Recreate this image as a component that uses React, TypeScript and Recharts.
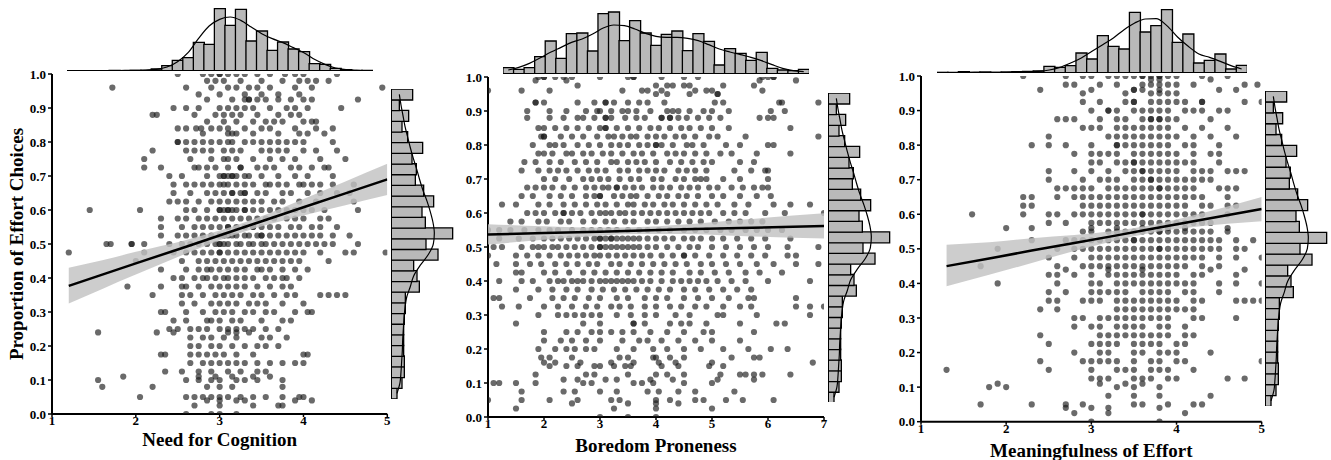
import React from 'react';
import { ComposedChart, Scatter, Line, Area, Bar, XAxis, YAxis, ReferenceLine } from 'recharts';

const FONT = '"Liberation Serif", "Times New Roman", Times, serif';

// ---------- Scatter data (rows: [proportion of effort choices, predictor values]) ----------
const nfcRows: [number, number[]][] = [
  [1.0, [2.5, 2.8, 2.9, 3.0, 3.0, 3.1, 3.2, 3.3, 3.45, 3.6, 3.78, 3.9, 4.0, 4.4]],
  [0.98, [2.85, 2.95, 3.05, 3.25, 3.5, 3.75, 3.95, 4.05, 4.15, 4.3]],
  [0.96, [1.72, 2.6, 2.9, 3.1, 3.2, 3.35, 3.45, 3.6, 3.9, 4.1, 4.94]],
  [0.94, [2.75, 3.0, 3.3, 3.5, 3.7, 3.95]],
  [0.925, [2.85, 3.15, 3.3, 3.35, 3.35, 3.45, 3.55, 3.7, 3.85, 4.0, 4.1, 4.65]],
  [0.9, [2.45, 2.6, 2.75, 3.0, 3.1, 3.2, 3.3, 3.4, 3.6, 3.8, 3.9, 4.05, 4.45]],
  [0.88, [2.2, 2.25, 2.7, 2.95, 3.05, 3.15, 3.25, 3.45, 3.7, 3.85, 3.95]],
  [0.86, [2.85, 3.05, 3.2, 3.4, 3.55, 3.65, 3.75, 4.0, 4.1, 4.15]],
  [0.84, [2.5, 2.6, 2.72, 2.78, 2.9, 3.0, 3.1, 3.3, 3.5, 3.6, 3.9, 4.15, 4.35]],
  [0.825, [2.8, 3.1, 3.15, 3.2, 3.4, 3.7, 3.95, 4.05, 4.25]],
  [0.8, [2.5, 2.5, 2.6, 2.7, 2.8, 2.9, 3.0, 3.1, 3.15, 3.3, 3.4, 3.5, 3.6, 3.7, 3.8, 3.9, 4.0, 4.35]],
  [0.775, [2.2, 2.6, 2.7, 2.8, 2.9, 3.05, 3.15, 3.25, 3.5, 3.6, 3.7, 3.8, 4.0, 4.15, 4.4]],
  [0.75, [2.1, 2.65, 2.9, 3.05, 3.1, 3.2, 3.4, 3.6, 3.75, 3.9, 4.2, 4.5]],
  [0.725, [2.1, 2.3, 2.7, 2.75, 2.85, 2.95, 3.1, 3.25, 3.25, 3.45, 3.55, 3.65, 3.85, 3.95, 4.1, 4.25, 4.3]],
  [0.7, [2.4, 2.55, 2.85, 3.0, 3.05, 3.05, 3.1, 3.15, 3.15, 3.2, 3.3, 3.35, 3.5, 3.7, 3.9, 4.05, 4.35]],
  [0.675, [2.45, 2.6, 2.7, 2.8, 2.9, 3.0, 3.05, 3.1, 3.2, 3.3, 3.4, 3.55, 3.6, 3.7, 3.8, 3.95, 4.0, 4.1, 4.2, 4.35, 4.6]],
  [0.65, [2.45, 2.65, 2.85, 2.95, 3.05, 3.15, 3.15, 3.25, 3.3, 3.3, 3.45, 3.55, 3.75, 3.85, 4.05, 4.2, 4.4, 4.55]],
  [0.625, [2.4, 2.5, 2.6, 2.75, 2.9, 3.0, 3.1, 3.2, 3.3, 3.4, 3.5, 3.65, 3.75, 3.95, 4.15, 4.6]],
  [0.6, [1.45, 2.05, 2.6, 2.7, 2.85, 3.0, 3.0, 3.05, 3.1, 3.1, 3.15, 3.2, 3.3, 3.3, 3.4, 3.5, 3.6, 3.7, 3.8, 3.9, 4.0, 4.1, 4.25, 4.65]],
  [0.575, [2.3, 2.5, 2.6, 2.75, 2.85, 2.95, 3.05, 3.15, 3.25, 3.35, 3.45, 3.55, 3.65, 3.8, 3.9, 4.0, 4.2, 4.3]],
  [0.55, [2.3, 2.55, 2.7, 2.8, 2.9, 3.0, 3.1, 3.1, 3.2, 3.3, 3.4, 3.4, 3.5, 3.6, 3.7, 3.85, 3.95, 4.1, 4.2, 4.4]],
  [0.525, [2.3, 2.5, 2.6, 2.7, 2.8, 2.9, 3.0, 3.05, 3.05, 3.1, 3.15, 3.2, 3.3, 3.35, 3.45, 3.5, 3.5, 3.6, 3.7, 3.8, 3.9, 4.0, 4.1, 4.2, 4.35, 4.55]],
  [0.5, [1.65, 1.7, 1.95, 1.95, 2.1, 2.4, 2.55, 2.65, 2.75, 2.85, 2.95, 3.0, 3.0, 3.05, 3.1, 3.2, 3.25, 3.35, 3.4, 3.5, 3.55, 3.65, 3.75, 3.85, 3.95, 4.05, 4.15, 4.25, 4.35, 4.65]],
  [0.475, [1.2, 2.1, 2.45, 2.6, 2.7, 2.8, 2.9, 3.0, 3.0, 3.1, 3.2, 3.3, 3.4, 3.5, 3.6, 3.7, 3.8, 3.9, 4.0, 4.2, 4.5, 4.6, 4.98]],
  [0.45, [2.0, 2.55, 2.75, 2.85, 2.95, 3.05, 3.15, 3.25, 3.35, 3.45, 3.55, 3.65, 3.75, 3.85, 3.95, 4.3]],
  [0.425, [2.3, 2.6, 2.75, 2.85, 2.9, 3.0, 3.1, 3.2, 3.3, 3.45, 3.5, 3.6, 3.75, 3.9, 4.05]],
  [0.4, [2.45, 2.55, 2.7, 2.8, 2.85, 2.95, 3.05, 3.1, 3.2, 3.3, 3.4, 3.55, 3.65, 3.75, 3.8, 3.95]],
  [0.375, [1.9, 2.3, 2.55, 2.6, 2.75, 2.9, 3.0, 3.1, 3.2, 3.3, 3.45, 3.6, 3.75, 3.85]],
  [0.35, [2.2, 2.55, 2.65, 2.8, 2.95, 3.05, 3.15, 3.25, 3.4, 3.5, 3.65, 3.8, 3.9, 4.2, 4.3, 4.4, 4.5]],
  [0.325, [2.55, 2.7, 2.9, 3.0, 3.1, 3.2, 3.35, 3.45, 3.55, 3.75, 4.0]],
  [0.3, [2.3, 2.35, 2.6, 2.8, 2.95, 3.05, 3.15, 3.3, 3.4, 3.55, 3.65, 3.9, 4.05, 4.1]],
  [0.275, [2.45, 2.6, 2.85, 2.9, 3.0, 3.15, 3.25, 3.5, 3.75, 3.85]],
  [0.25, [2.4, 2.5, 2.65, 2.75, 2.85, 3.0, 3.1, 3.2, 3.3, 3.4, 3.55, 3.7]],
  [0.24, [1.55, 2.25, 2.45, 3.1, 3.2, 3.35]],
  [0.225, [2.65, 2.8, 2.9, 3.05, 3.2, 3.5, 3.6, 3.8]],
  [0.2, [2.65, 2.75, 2.9, 3.0, 3.15, 3.3, 3.45, 3.55, 3.7]],
  [0.175, [2.3, 2.35, 2.65, 2.75, 2.85, 2.95, 3.05, 3.2, 3.4, 4.0, 4.05]],
  [0.15, [2.65, 2.8, 2.9, 3.0, 3.1, 3.2, 3.3, 3.45, 3.6, 3.75, 3.9, 4.0]],
  [0.125, [2.35, 2.55, 2.75, 2.9, 3.1, 3.25, 3.45, 3.55]],
  [0.11, [1.85, 2.75, 2.95, 3.15, 3.4, 3.6]],
  [0.1, [1.55, 2.6, 2.75, 2.9, 3.0, 3.2, 3.3, 3.45, 3.75]],
  [0.08, [1.6, 2.2, 2.85, 3.0, 3.15, 3.75]],
  [0.05, [2.05, 2.6, 2.7, 2.8, 2.9, 3.0, 3.1, 3.25, 3.4, 3.55, 3.75, 3.95, 4.0]],
  [0.04, [2.85, 3.0, 3.2, 3.3, 3.9, 4.1]],
  [0.025, [2.7, 3.0, 3.4, 3.7, 3.75]],
  [0.0, [2.6, 2.9, 3.0, 3.2]],
];

const bpRows: [number, number[]][] = [
  [1.0, [1.9, 2.0, 2.0, 2.2, 2.35, 2.5, 3.0, 3.5, 3.6, 3.6, 4.1, 4.5, 4.75, 5.9, 6.0, 6.1, 6.1]],
  [0.99, [1.85, 2.4, 5.85, 6.5]],
  [0.975, [2.6, 4.0, 4.2, 4.3, 4.5, 4.6, 5.2, 5.75]],
  [0.96, [1.0, 1.6, 2.1, 3.4, 3.75, 3.85, 4.1, 4.7, 4.9, 5.0, 5.9]],
  [0.95, [4.0, 4.2, 4.6, 5.1, 5.1]],
  [0.925, [1.85, 1.85, 2.0, 2.6, 2.9, 3.1, 3.1, 3.25, 3.5, 3.7, 3.85, 4.15, 5.05, 5.2, 6.2, 6.25, 6.9]],
  [0.9, [1.7, 2.1, 2.4, 2.75, 2.95, 3.0, 3.2, 3.4, 3.5, 3.65, 3.9, 4.2, 4.3, 4.4, 4.6, 4.85, 5.0, 5.3, 6.05, 6.3]],
  [0.88, [1.7, 2.1, 2.35, 2.6, 2.7, 2.9, 3.1, 3.1, 3.2, 3.45, 3.65, 3.8, 4.1, 4.1, 4.25, 4.25, 4.4, 4.55, 4.75, 4.95, 5.15, 5.85, 6.0, 6.1]],
  [0.85, [1.9, 2.0, 2.2, 2.4, 2.6, 2.8, 3.0, 3.1, 3.1, 3.3, 3.5, 3.7, 3.9, 4.05, 4.25, 4.45, 4.6, 4.8, 5.0, 5.3, 6.4]],
  [0.825, [1.95, 2.0, 2.0, 2.3, 2.5, 2.7, 2.95, 3.15, 3.25, 3.4, 3.55, 3.65, 3.85, 4.0, 4.15, 4.35, 4.5, 4.7, 4.95, 5.1, 5.6, 6.9]],
  [0.8, [1.8, 2.1, 2.2, 2.35, 2.6, 2.8, 3.0, 3.2, 3.35, 3.5, 3.7, 3.85, 4.0, 4.0, 4.1, 4.3, 4.55, 4.65, 4.85, 5.25, 5.5, 6.0, 6.1]],
  [0.775, [1.9, 2.0, 2.15, 2.4, 2.5, 2.7, 2.85, 3.05, 3.2, 3.4, 3.6, 3.75, 3.95, 4.2, 4.35, 4.5, 4.7, 4.9, 5.15, 5.35, 5.8, 6.4]],
  [0.75, [1.65, 1.85, 2.1, 2.3, 2.55, 2.75, 2.95, 3.2, 3.3, 3.5, 3.65, 3.8, 4.0, 4.25, 4.45, 4.65, 4.85, 5.0, 5.5, 5.75]],
  [0.725, [1.6, 1.9, 2.1, 2.25, 2.4, 2.6, 2.8, 2.95, 3.1, 3.35, 3.5, 3.7, 3.85, 4.0, 4.15, 4.4, 4.55, 4.7, 4.9, 5.4, 5.7, 5.95, 6.0]],
  [0.7, [2.0, 2.2, 2.45, 2.7, 2.85, 3.0, 3.15, 3.35, 3.55, 3.7, 3.95, 4.1, 4.35, 4.5, 4.7, 4.8, 4.9, 5.2, 5.5, 6.0]],
  [0.675, [1.7, 1.85, 2.0, 2.15, 2.35, 2.55, 2.75, 2.9, 3.05, 3.15, 3.3, 3.3, 3.45, 3.6, 3.75, 3.95, 4.1, 4.25, 4.45, 4.6, 4.75, 4.95, 5.1, 5.35, 5.55, 5.75, 5.9, 6.0]],
  [0.65, [1.6, 1.8, 2.1, 2.3, 2.5, 2.75, 2.9, 3.0, 3.0, 3.25, 3.4, 3.55, 3.65, 3.85, 4.05, 4.2, 4.4, 4.55, 4.75, 5.0, 5.2, 5.5, 5.8, 6.05]],
  [0.625, [1.25, 1.5, 1.9, 2.1, 2.35, 2.55, 2.75, 2.95, 3.1, 3.3, 3.5, 3.6, 3.8, 3.95, 4.15, 4.3, 4.5, 4.7, 4.9, 5.1, 5.4, 5.65, 6.1, 6.4, 6.75]],
  [0.6, [1.7, 1.85, 2.0, 2.2, 2.35, 2.35, 2.5, 2.65, 2.85, 3.0, 3.1, 3.2, 3.35, 3.45, 3.6, 3.75, 3.9, 4.05, 4.2, 4.35, 4.5, 4.65, 4.8, 4.95, 5.2, 5.4, 5.6, 5.95, 6.3, 7.0]],
  [0.575, [1.4, 1.6, 1.9, 2.05, 2.3, 2.45, 2.7, 2.9, 3.1, 3.25, 3.45, 3.6, 3.85, 4.0, 4.2, 4.4, 4.6, 4.8, 5.05, 5.3, 5.5, 5.7, 5.9]],
  [0.55, [1.0, 1.2, 1.4, 1.65, 1.9, 2.1, 2.25, 2.5, 2.7, 2.85, 3.0, 3.15, 3.3, 3.5, 3.7, 3.85, 4.05, 4.25, 4.5, 4.7, 4.9, 5.15, 5.35, 5.6, 5.8, 6.0, 6.25]],
  [0.525, [1.2, 1.55, 1.8, 2.0, 2.15, 2.3, 2.45, 2.6, 2.75, 2.9, 3.0, 3.0, 3.1, 3.2, 3.2, 3.3, 3.4, 3.5, 3.6, 3.7, 3.85, 4.0, 4.15, 4.3, 4.5, 4.65, 4.8, 5.0, 5.2, 5.45, 5.7, 5.95, 6.4]],
  [0.5, [1.1, 1.25, 1.6, 1.8, 1.9, 2.0, 2.15, 2.25, 2.4, 2.55, 2.7, 2.85, 3.0, 3.0, 3.1, 3.2, 3.3, 3.4, 3.5, 3.6, 3.7, 3.85, 4.0, 4.2, 4.4, 4.6, 4.75, 5.0, 5.25, 5.5, 5.75, 6.0, 6.35, 6.9]],
  [0.475, [1.0, 1.5, 1.7, 1.9, 2.1, 2.3, 2.45, 2.6, 2.75, 2.9, 3.0, 3.15, 3.3, 3.45, 3.6, 3.75, 3.9, 4.1, 4.3, 4.5, 4.5, 4.7, 4.95, 5.2, 5.45, 5.7, 5.95, 6.35, 6.5]],
  [0.45, [1.15, 1.5, 1.75, 1.95, 2.2, 2.4, 2.6, 2.8, 2.95, 3.2, 3.35, 3.55, 3.75, 3.95, 4.15, 4.35, 4.55, 4.8, 5.0, 5.25, 5.5, 5.8, 6.1, 6.5, 6.9]],
  [0.425, [1.5, 1.6, 2.0, 2.2, 2.45, 2.7, 2.9, 3.1, 3.3, 3.5, 3.7, 3.9, 4.1, 4.3, 4.6, 4.8, 5.05, 5.3, 5.6, 5.85, 6.25]],
  [0.4, [1.2, 1.6, 1.8, 2.1, 2.25, 2.35, 2.5, 2.6, 2.7, 2.85, 3.0, 3.1, 3.2, 3.3, 3.4, 3.5, 3.6, 3.75, 3.9, 4.1, 4.3, 4.45, 4.6, 4.75, 4.9, 5.1, 5.35, 5.6, 6.0, 6.75]],
  [0.375, [1.5, 1.9, 2.15, 2.4, 2.6, 2.85, 3.05, 3.25, 3.45, 3.65, 3.85, 4.05, 4.25, 4.5, 4.7, 4.95, 5.2, 5.45, 5.7]],
  [0.35, [1.1, 1.2, 1.75, 2.15, 2.35, 2.55, 2.8, 3.0, 3.3, 3.5, 3.8, 4.0, 4.2, 4.5, 4.75, 5.0, 5.3, 5.65, 5.75, 6.5]],
  [0.325, [1.25, 1.55, 2.0, 2.25, 2.5, 2.75, 2.95, 3.2, 3.35, 3.55, 3.8, 4.0, 4.25, 4.45, 4.7, 4.9, 5.2, 5.5, 5.7, 6.5, 6.75, 7.0]],
  [0.3, [1.9, 2.25, 2.4, 2.55, 2.7, 2.85, 3.0, 3.3, 3.55, 3.8, 4.0, 4.35, 4.6, 5.1, 5.2, 5.8, 6.75]],
  [0.275, [1.5, 2.7, 3.0, 3.6, 3.6, 3.8, 4.25, 4.45, 4.6, 4.9, 5.5, 6.15, 6.3]],
  [0.25, [2.0, 2.4, 2.6, 2.85, 3.0, 3.2, 3.4, 3.6, 3.9, 4.2, 4.5, 4.85, 5.0, 5.75]],
  [0.225, [2.0, 2.3, 2.5, 2.75, 3.0, 3.4, 3.7, 3.85, 4.1, 4.4, 4.7, 5.0, 5.5]],
  [0.2, [1.9, 2.2, 2.4, 2.55, 2.75, 2.9, 3.3, 3.6, 3.95, 4.2, 4.5, 4.8, 5.2, 5.65, 6.05, 6.35]],
  [0.175, [1.95, 2.1, 2.5, 3.35, 3.5, 3.95, 4.0, 4.25, 4.5, 5.35, 5.75, 5.85]],
  [0.16, [2.0, 2.2, 2.65, 3.2, 3.6, 4.05, 4.35, 5.0, 6.8]],
  [0.15, [2.1, 2.4, 2.6, 2.9, 3.0, 3.25, 3.45, 3.55, 4.1, 4.4, 4.95, 5.2]],
  [0.125, [1.85, 2.75, 2.9, 3.5, 4.0, 4.2, 4.5, 5.15, 5.5, 5.6, 5.75, 5.9, 6.4]],
  [0.11, [2.35, 2.6, 3.1, 3.3, 3.9, 4.3, 5.1, 5.75]],
  [0.1, [1.1, 1.2, 1.5, 1.85, 2.7, 2.85, 3.6, 3.75, 3.95, 4.5, 5.0]],
  [0.075, [1.6, 2.35, 2.55, 3.0, 3.3, 3.85, 4.05, 4.4, 4.7, 5.4]],
  [0.05, [1.0, 1.6, 2.1, 2.6, 3.2, 3.35, 4.0, 4.25, 4.7, 4.85, 5.25, 5.55, 6.1]],
  [0.04, [2.5, 3.5, 4.0, 4.4]],
  [0.025, [1.5, 3.25, 4.0, 5.0]],
  [0.0, [3.0, 3.5, 4.0]],
];

const meRows: [number, number[]][] = [
  [1.0, [2.2, 2.7, 2.9, 3.0, 3.2, 3.3, 3.4, 3.5, 3.6, 3.6, 3.7, 3.8, 3.8, 3.9, 4.0, 4.3, 4.6]],
  [0.99, [3.7, 3.8, 4.4]],
  [0.975, [2.7, 2.8, 3.1, 3.3, 3.6, 3.7, 3.8, 3.9, 4.0, 4.2, 4.8, 4.95]],
  [0.96, [2.4, 3.0, 3.5, 3.5, 3.6, 3.8, 4.5, 4.7]],
  [0.95, [2.9, 3.4, 3.7, 3.8, 3.9, 4.0]],
  [0.925, [2.9, 3.1, 3.4, 3.5, 3.5, 3.7, 3.8, 3.9, 4.0, 4.1, 4.3, 4.3, 4.8, 5.0]],
  [0.9, [3.0, 3.2, 3.2, 3.3, 3.5, 3.6, 3.7, 3.8, 3.9, 4.1, 4.2, 4.3, 4.5, 4.6]],
  [0.875, [2.6, 2.7, 2.8, 3.1, 3.3, 3.4, 3.6, 3.7, 3.7, 3.8, 3.8, 3.9, 4.0, 4.4]],
  [0.85, [2.9, 3.0, 3.1, 3.3, 3.4, 3.5, 3.6, 3.7, 3.8, 3.9, 4.1, 4.3, 4.6]],
  [0.825, [2.5, 3.2, 3.3, 3.4, 3.5, 3.6, 3.7, 3.8, 3.9, 4.0, 4.2, 4.4, 4.7]],
  [0.8, [2.3, 2.5, 2.7, 3.0, 3.3, 3.3, 3.4, 3.5, 3.6, 3.7, 3.8, 3.9, 4.1, 4.2, 4.5]],
  [0.775, [2.8, 3.0, 3.1, 3.2, 3.3, 3.5, 3.6, 3.7, 3.8, 3.9, 4.0, 4.2, 4.4, 4.5]],
  [0.75, [3.0, 3.1, 3.3, 3.4, 3.5, 3.5, 3.6, 3.7, 3.8, 3.9, 4.0, 4.1, 4.2, 4.5]],
  [0.725, [2.5, 2.8, 3.0, 3.2, 3.4, 3.5, 3.6, 3.6, 3.7, 3.8, 3.9, 4.0, 4.2, 4.3, 4.4, 4.6, 4.7, 4.8]],
  [0.7, [2.5, 2.9, 3.1, 3.2, 3.3, 3.5, 3.6, 3.7, 3.7, 3.8, 3.9, 4.0, 4.1, 4.2, 4.3, 4.4]],
  [0.675, [2.6, 2.7, 2.8, 2.9, 3.0, 3.2, 3.3, 3.4, 3.5, 3.6, 3.7, 3.8, 3.8, 3.9, 4.0, 4.1, 4.2, 4.5, 4.6, 4.7]],
  [0.65, [2.2, 2.3, 2.6, 2.8, 2.9, 3.0, 3.1, 3.2, 3.3, 3.4, 3.5, 3.6, 3.7, 3.8, 3.9, 4.0, 4.1, 4.2, 4.3, 4.6]],
  [0.625, [2.2, 2.3, 2.9, 3.0, 3.1, 3.2, 3.3, 3.4, 3.5, 3.6, 3.7, 3.8, 3.9, 4.0, 4.1, 4.3, 4.4, 4.6, 4.7]],
  [0.6, [1.6, 2.2, 2.5, 2.6, 2.8, 2.9, 3.0, 3.1, 3.2, 3.3, 3.4, 3.5, 3.6, 3.6, 3.7, 3.8, 3.9, 4.0, 4.1, 4.2, 4.3, 4.6]],
  [0.575, [2.5, 2.7, 3.0, 3.1, 3.2, 3.3, 3.4, 3.5, 3.6, 3.7, 3.8, 3.9, 4.0, 4.1, 4.2, 4.3, 4.4]],
  [0.56, [2.0, 2.3, 3.0, 3.3, 3.6, 3.9, 4.1, 4.6]],
  [0.55, [2.9, 3.0, 3.2, 3.3, 3.4, 3.5, 3.6, 3.7, 3.8, 3.8, 3.9, 4.0, 4.1, 4.2, 4.3, 4.4, 4.6]],
  [0.525, [2.3, 2.7, 2.8, 2.9, 3.0, 3.1, 3.2, 3.3, 3.4, 3.5, 3.5, 3.6, 3.7, 3.8, 3.9, 4.0, 4.1, 4.2, 4.3, 4.4, 4.5, 4.7, 4.9]],
  [0.5, [1.9, 2.6, 2.8, 2.9, 3.0, 3.1, 3.2, 3.3, 3.4, 3.5, 3.6, 3.7, 3.8, 3.8, 3.9, 4.0, 4.1, 4.2, 4.3, 4.4, 4.5, 4.7, 4.8]],
  [0.475, [2.5, 2.8, 3.0, 3.1, 3.2, 3.3, 3.4, 3.5, 3.6, 3.7, 3.8, 3.9, 4.0, 4.1, 4.2, 4.3, 4.5, 4.7, 5.0]],
  [0.45, [1.7, 2.6, 2.9, 3.0, 3.1, 3.2, 3.3, 3.4, 3.5, 3.6, 3.7, 3.8, 3.9, 4.0, 4.1, 4.3, 4.5]],
  [0.44, [2.7, 3.2, 3.6, 4.4, 4.8]],
  [0.425, [2.5, 2.6, 2.8, 3.0, 3.2, 3.3, 3.4, 3.5, 3.6, 3.7, 3.8, 3.9, 4.0, 4.2, 4.3, 4.7]],
  [0.4, [1.9, 2.6, 3.0, 3.1, 3.3, 3.4, 3.5, 3.6, 3.7, 3.8, 3.9, 4.0, 4.1, 4.2, 4.5, 4.7, 5.0]],
  [0.375, [2.5, 2.7, 3.0, 3.1, 3.2, 3.3, 3.4, 3.6, 3.7, 3.8, 3.9, 4.1, 4.2, 4.5]],
  [0.35, [2.5, 2.6, 2.9, 3.0, 3.1, 3.3, 3.4, 3.5, 3.6, 3.7, 3.8, 3.9, 4.0, 4.2, 4.3, 4.7, 4.8, 4.9, 5.0]],
  [0.325, [2.4, 2.6, 3.3, 3.4, 3.5, 3.6, 3.7, 3.8, 3.9, 4.0, 4.1, 4.2]],
  [0.3, [2.8, 2.9, 3.1, 3.2, 3.3, 3.4, 3.5, 3.6, 3.7, 3.8, 3.9, 4.2, 4.3, 4.7]],
  [0.275, [2.8, 3.0, 3.1, 3.3, 3.4, 3.5, 3.6, 3.8, 3.9, 4.1]],
  [0.25, [2.4, 3.1, 3.2, 3.3, 3.4, 3.5, 3.6, 3.7, 3.8, 3.9, 4.1, 4.2]],
  [0.225, [2.5, 3.0, 3.1, 3.2, 3.3, 3.5, 3.6, 3.7, 3.8, 4.0, 4.1]],
  [0.2, [2.8, 3.1, 3.2, 3.5, 3.6, 3.8, 3.9, 4.0, 4.4]],
  [0.175, [2.4, 2.9, 3.0, 3.1, 3.2, 3.3, 3.5, 3.7, 3.8, 4.0, 4.1, 5.0]],
  [0.15, [1.3, 2.5, 3.0, 3.3, 3.4, 3.5, 3.7, 3.8, 3.9, 4.2]],
  [0.125, [3.0, 3.1, 3.2, 3.5, 3.6, 3.7, 3.9, 4.0, 4.6, 4.8]],
  [0.11, [1.9, 3.1, 3.4, 3.6]],
  [0.1, [1.8, 2.0, 3.3, 3.5, 3.8]],
  [0.075, [3.2, 3.5, 3.8, 4.4]],
  [0.05, [1.7, 2.3, 2.7, 2.9, 3.5, 3.6, 3.9, 4.2, 4.3]],
  [0.04, [2.7, 3.0, 3.2, 3.8]],
  [0.025, [2.8, 3.2, 4.1]],
  [0.0, [3.0, 3.8]],
];

// ---------- Regression fits with 95% CI ----------
const nfcFit = [
  { x: 1.2, fit: 0.377, band: [0.325, 0.43] },
  { x: 1.6, fit: 0.41, band: [0.368, 0.452] },
  { x: 2.0, fit: 0.443, band: [0.41, 0.477] },
  { x: 2.6, fit: 0.492, band: [0.472, 0.512] },
  { x: 3.2, fit: 0.542, band: [0.529, 0.555] },
  { x: 3.6, fit: 0.575, band: [0.559, 0.591] },
  { x: 4.0, fit: 0.608, band: [0.584, 0.632] },
  { x: 4.5, fit: 0.649, band: [0.614, 0.684] },
  { x: 5.0, fit: 0.69, band: [0.644, 0.736] },
];
const bpFit = [
  { x: 1.0, fit: 0.537, band: [0.507, 0.567] },
  { x: 2.0, fit: 0.541, band: [0.521, 0.561] },
  { x: 3.0, fit: 0.545, band: [0.533, 0.557] },
  { x: 3.6, fit: 0.548, band: [0.538, 0.558] },
  { x: 4.5, fit: 0.552, band: [0.538, 0.566] },
  { x: 5.5, fit: 0.556, band: [0.532, 0.58] },
  { x: 7.0, fit: 0.562, band: [0.525, 0.599] },
];
const meFit = [
  { x: 1.3, fit: 0.45, band: [0.392, 0.512] },
  { x: 1.8, fit: 0.472, band: [0.425, 0.519] },
  { x: 2.3, fit: 0.495, band: [0.459, 0.531] },
  { x: 2.8, fit: 0.517, band: [0.494, 0.54] },
  { x: 3.3, fit: 0.539, band: [0.525, 0.553] },
  { x: 3.65, fit: 0.555, band: [0.544, 0.566] },
  { x: 4.2, fit: 0.58, band: [0.563, 0.597] },
  { x: 5.0, fit: 0.615, band: [0.58, 0.65] },
];

// ---------- Marginal histograms (29 bins each) and KDE heights ----------
const nfcHist = [1, 1, 0, 1, 2, 1, 2, 2, 6, 16, 32, 40, 86, 80, 187, 137, 185, 90, 120, 62, 87, 66, 58, 22, 20, 8, 4, 2, 2];
const nfcKde = [1, 1, 1, 1, 1, 2, 2, 3, 5, 12, 28, 55, 98, 135, 155, 162, 152, 132, 112, 97, 85, 70, 55, 35, 20, 9, 4, 2, 1];
const bpHist = [19, 14, 19, 52, 99, 47, 121, 123, 69, 181, 186, 100, 160, 123, 86, 119, 129, 70, 121, 98, 27, 76, 62, 41, 65, 17, 12, 10, 14];
const bpKde = [12, 20, 32, 48, 65, 80, 95, 105, 120, 138, 147, 145, 135, 122, 113, 110, 110, 107, 100, 88, 75, 66, 58, 50, 40, 28, 17, 10, 7];
const meHist = [2, 2, 4, 2, 3, 2, 3, 4, 5, 6, 20, 17, 22, 60, 42, 112, 80, 72, 182, 123, 142, 190, 92, 117, 30, 38, 57, 12, 23];
const meKde = [1, 1, 1, 2, 2, 2, 2, 3, 3, 5, 9, 17, 30, 45, 65, 85, 105, 130, 150, 162, 163, 142, 108, 80, 57, 47, 35, 22, 12];
// proportion of effort choices, bins from low to high
const yHist = [18, 33, 40, 40, 38, 38, 38, 40, 43, 43, 85, 78, 68, 141, 105, 185, 103, 93, 128, 98, 73, 76, 63, 95, 50, 33, 53, 25, 65];
const yKde = [18, 27, 30, 32, 34, 35, 37, 39, 42, 47, 58, 68, 88, 112, 127, 130, 126, 118, 108, 96, 86, 77, 67, 58, 50, 42, 36, 30, 25];

const yTicks = [0, 0.1, 0.2, 0.3, 0.4, 0.5, 0.6, 0.7, 0.8, 0.9, 1.0];
const ticks15 = [1, 2, 3, 4, 5];
const ticks17 = [1, 2, 3, 4, 5, 6, 7];

const toPoints = (rows: [number, number[]][]) => rows.flatMap(([y, xs]) => xs.map((x) => ({ x, y })));
const toBins = (c: number[], k: number[]) => c.map((v, i) => ({ i, c: v, k: k[i] }));

const tickStyle = { fill: '#000', fontSize: 13, fontWeight: 700, fontFamily: FONT };
const titleStyle = { fill: '#000', fontSize: 19, fontWeight: 700, fontFamily: FONT, textAnchor: 'middle' as const };

const Dot = (p: any) => <circle cx={p.cx} cy={p.cy} r={3.1} fill="#1a1a1a" fillOpacity={0.65} />;

function ScatterPanel(props: {
  plotLeft: number; plotTop: number; plotW: number; plotH: number; yAxisW: number; xAxisH: number;
  xDomain: [number, number]; xTicks: number[]; rows: [number, number[]][]; fit: any[];
  title: string; titleOffset: number; yTitle?: string;
}) {
  const mT = 10, mR = 10;
  const { plotLeft, plotTop, plotW, plotH, yAxisW, xAxisH } = props;
  const pts = toPoints(props.rows);
  return (
    <div style={{ position: 'absolute', left: plotLeft - yAxisW, top: plotTop - mT }}>
      <ComposedChart width={yAxisW + plotW + mR} height={mT + plotH + xAxisH} data={props.fit}
        margin={{ top: mT, right: mR, bottom: 0, left: 0 }}>
        <XAxis type="number" dataKey="x" domain={props.xDomain} ticks={props.xTicks} interval={0}
          allowDataOverflow height={xAxisH} tickSize={3} tickMargin={-1}
          axisLine={{ stroke: '#000', strokeWidth: 2 }} tickLine={{ stroke: '#000', strokeWidth: 1.5 }}
          tick={tickStyle}
          label={{ value: props.title, position: 'insideBottom', offset: props.titleOffset, style: titleStyle }} />
        <YAxis type="number" domain={[0, 1]} ticks={yTicks} interval={0} width={yAxisW}
          allowDataOverflow tickSize={4} tickMargin={2}
          axisLine={{ stroke: '#000', strokeWidth: 2 }} tickLine={{ stroke: '#000', strokeWidth: 1.5 }}
          tick={tickStyle} tickFormatter={(v: number) => v.toFixed(1)}
          label={props.yTitle ? { value: props.yTitle, angle: -90, position: 'insideLeft', offset: 16.5, style: titleStyle } : undefined} />
        <Scatter data={pts} dataKey="y" shape={Dot} isAnimationActive={false} />
        <Area dataKey="band" type="monotone" fill="#c2c2c2" fillOpacity={0.82} stroke="none" isAnimationActive={false} {...({ zIndex: 650 } as any)} />
        <Line dataKey="fit" type="linear" stroke="#000" strokeWidth={2.5} dot={false} isAnimationActive={false} {...({ zIndex: 700 } as any)} />
      </ComposedChart>
    </div>
  );
}

function TopHist(props: { left: number; baseline: number; width: number; counts: number[]; kde: number[] }) {
  const H = 68;
  const data = toBins(props.counts, props.kde);
  return (
    <div style={{ position: 'absolute', left: props.left, top: props.baseline - H }}>
      <ComposedChart width={props.width} height={H} data={data} margin={{ top: 0, right: 0, bottom: 0, left: 0 }}
        barCategoryGap={0} barGap={0}>
        <XAxis dataKey="i" type="category" hide />
        <YAxis type="number" domain={[0, H * 3]} hide allowDataOverflow />
        <Bar dataKey="c" fill="#b9b9b9" stroke="#000" strokeWidth={1.3} isAnimationActive={false} />
        <Line dataKey="k" type="monotone" stroke="#000" strokeWidth={1.2} dot={false} isAnimationActive={false} />
        <ReferenceLine y={0} stroke="#000" strokeWidth={2} />
      </ComposedChart>
    </div>
  );
}

function RightHist(props: { left: number; top: number; height: number; counts: number[]; kde: number[] }) {
  const W = 64;
  const data = toBins(props.counts, props.kde);
  return (
    <div style={{ position: 'absolute', left: props.left, top: props.top }}>
      <ComposedChart layout="vertical" width={W} height={props.height} data={data}
        margin={{ top: 0, right: 0, bottom: 0, left: 0 }} barCategoryGap={0} barGap={0}>
        <YAxis dataKey="i" type="category" hide reversed />
        <XAxis type="number" domain={[0, W * 3]} hide allowDataOverflow />
        <Bar dataKey="c" fill="#b9b9b9" stroke="#000" strokeWidth={1.3} isAnimationActive={false} />
        <Line dataKey="k" type="monotone" stroke="#000" strokeWidth={1.2} dot={false} isAnimationActive={false} />
        <ReferenceLine x={0} stroke="#000" strokeWidth={2} />
      </ComposedChart>
    </div>
  );
}

export default function App() {
  return (
    <div style={{ position: 'absolute', left: 0, top: 0, width: 1331, height: 460, background: '#fff', overflow: 'hidden', fontFamily: FONT }}>
      <style>{`.recharts-wrapper text { font-family: "Liberation Serif", "Times New Roman", Times, serif !important; font-weight: 700; }`}</style>
      {/* Panel 1: Need for Cognition */}
      <TopHist left={67.3} baseline={70.7} width={305.3} counts={nfcHist} kde={nfcKde} />
      <RightHist left={390.7} top={89.3} height={309.7} counts={yHist} kde={yKde} />
      <ScatterPanel plotLeft={52} plotTop={74} plotW={335.3} plotH={340} yAxisW={52} xAxisH={46}
        xDomain={[1, 5]} xTicks={ticks15} rows={nfcRows} fit={nfcFit}
        title="Need for Cognition" titleOffset={14} yTitle="Proportion of Effort Choices" />

      {/* Panel 2: Boredom Proneness */}
      <TopHist left={503.3} baseline={74} width={306} counts={bpHist} kde={bpKde} />
      <RightHist left={827.7} top={92.7} height={309.6} counts={yHist} kde={yKde} />
      <ScatterPanel plotLeft={488.3} plotTop={77.3} plotW={336} plotH={340} yAxisW={40} xAxisH={43}
        xDomain={[1, 7]} xTicks={ticks17} rows={bpRows} fit={bpFit}
        title="Boredom Proneness" titleOffset={7.6} />

      {/* Panel 3: Meaningfulness of Effort */}
      <TopHist left={936.7} baseline={73.3} width={310} counts={meHist} kde={meKde} />
      <RightHist left={1265} top={90.7} height={315.3} counts={yHist} kde={yKde} />
      <ScatterPanel plotLeft={921} plotTop={76} plotW={340.7} plotH={345.7} yAxisW={40} xAxisH={38}
        xDomain={[1, 5]} xTicks={ticks15} rows={meRows} fit={meFit}
        title="Meaningfulness of Effort" titleOffset={3} />
    </div>
  );
}
